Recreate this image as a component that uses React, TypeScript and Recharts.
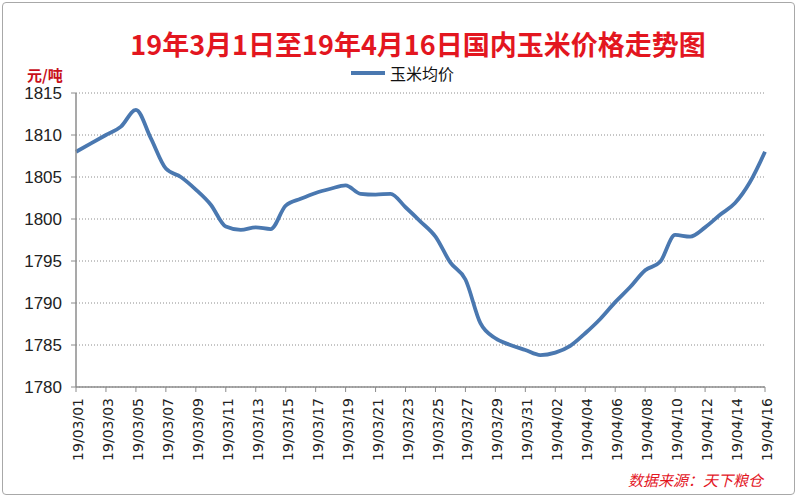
import React from "react";
import { LineChart, Line, XAxis, YAxis, CartesianGrid } from "recharts";

const dates: string[] = [
  "19/03/01", "19/03/02", "19/03/03", "19/03/04", "19/03/05", "19/03/06", "19/03/07", "19/03/08",
  "19/03/09", "19/03/10", "19/03/11", "19/03/12", "19/03/13", "19/03/14", "19/03/15", "19/03/16",
  "19/03/17", "19/03/18", "19/03/19", "19/03/20", "19/03/21", "19/03/22", "19/03/23", "19/03/24",
  "19/03/25", "19/03/26", "19/03/27", "19/03/28", "19/03/29", "19/03/30", "19/03/31", "19/04/01",
  "19/04/02", "19/04/03", "19/04/04", "19/04/05", "19/04/06", "19/04/07", "19/04/08", "19/04/09",
  "19/04/10", "19/04/11", "19/04/12", "19/04/13", "19/04/14", "19/04/15", "19/04/16",
];

const cornPrice: number[] = [
  1808, 1809, 1810, 1811, 1813, 1809.6, 1806, 1805,
  1803.5, 1801.7, 1799.1, 1798.7, 1799, 1798.8, 1801.6, 1802.4,
  1803.1, 1803.6, 1804, 1803, 1802.9, 1803, 1801.4, 1799.7,
  1797.9, 1794.8, 1792.8, 1787.6, 1785.8, 1785, 1784.4, 1783.8,
  1784.1, 1784.9, 1786.4, 1788.1, 1790.1, 1791.9, 1793.9, 1794.9,
  1798.1, 1797.9, 1799, 1800.5, 1801.9, 1804.4, 1808,
];

const yTicks: number[] = [1780, 1785, 1790, 1795, 1800, 1805, 1810, 1815];

const titleText = "19年3月1日至19年4月16日国内玉米价格走势图";
const seriesName = "玉米均价";
const unitText = "元/吨";
const sourceText = "数据来源：天下粮仓";

const data = dates.map((d, i) => ({ date: d, price: cornPrice[i] }));

const LINE_COLOR = "#4a78b0";

const XTick = (props: any) => {
  const { x, y, payload } = props;
  const tx = x + 2;
  const ty = y + 4;
  return (
    <text
      x={tx}
      y={ty}
      transform={`rotate(-90 ${tx} ${ty})`}
      textAnchor="end"
      dy="0.36em"
      fontFamily="DejaVu Sans"
      fontSize={14}
      fill="#222"
    >
      {payload.value}
    </text>
  );
};

export default function App() {
  return (
    <div
      style={{
        position: "absolute",
        left: 0,
        top: 0,
        width: 800,
        height: 500,
        background: "#fff",
        overflow: "hidden",
      }}
    >
      <div
        style={{
          position: "absolute",
          left: 2,
          top: 2,
          width: 793,
          height: 493,
          border: "1px solid #a8a8a8",
          borderRadius: 4,
          boxSizing: "border-box",
        }}
      />
      <LineChart
        width={800}
        height={500}
        data={data}
        margin={{ top: 93, right: 35, bottom: 0, left: 0 }}
      >
        <CartesianGrid
          vertical={false}
          horizontal={true}
          stroke="#8c8c8c"
          strokeDasharray="1 2"
        />
        <XAxis
          dataKey="date"
          interval={1}
          height={113}
          tickSize={5}
          tick={<XTick />}
          axisLine={{ stroke: "#8c8c8c", strokeWidth: 1.5 }}
          tickLine={{ stroke: "#8c8c8c" }}
        />
        <YAxis
          domain={[1780, 1815]}
          ticks={yTicks}
          interval={0}
          width={76}
          tickSize={5}
          tickMargin={9}
          allowDataOverflow
          axisLine={{ stroke: "#8c8c8c", strokeWidth: 1.5 }}
          tickLine={{ stroke: "#8c8c8c" }}
          tick={{ fontFamily: "Liberation Sans", fontSize: 17, fill: "#222" }}
        />
        <Line
          type="monotone"
          dataKey="price"
          name={seriesName}
          stroke={LINE_COLOR}
          strokeWidth={3.8}
          dot={false}
          activeDot={false}
          isAnimationActive={false}
        />
      </LineChart>
      <div
        style={{
          position: "absolute",
          left: 0,
          width: 836,
          top: 29,
          textAlign: "center",
          fontFamily: "'Noto Sans CJK SC'",
          fontWeight: 700,
          fontSize: 27,
          lineHeight: "30px",
          color: "#e3161f",
          whiteSpace: "nowrap",
        }}
      >
        {titleText}
      </div>
      <div
        style={{
          position: "absolute",
          left: 351,
          top: 63,
          height: 20,
          display: "flex",
          alignItems: "center",
          fontFamily: "'Noto Sans CJK SC'",
          fontSize: 16,
          lineHeight: "20px",
          color: "#111",
          whiteSpace: "nowrap",
        }}
      >
        <span
          style={{
            display: "inline-block",
            width: 34,
            height: 4,
            background: LINE_COLOR,
            marginRight: 5,
          }}
        />
        <span>{seriesName}</span>
      </div>
      <div
        style={{
          position: "absolute",
          left: 27,
          top: 65,
          fontFamily: "'Noto Sans CJK SC'",
          fontWeight: 700,
          fontSize: 15,
          lineHeight: "20px",
          color: "#c8101a",
          whiteSpace: "nowrap",
        }}
      >
        {unitText}
      </div>
      <div
        style={{
          position: "absolute",
          left: 628,
          top: 470,
          fontFamily: "'Noto Sans CJK SC'",
          fontStyle: "italic",
          fontSize: 15,
          lineHeight: "20px",
          color: "#e3161f",
          whiteSpace: "nowrap",
        }}
      >
        {sourceText}
      </div>
    </div>
  );
}
